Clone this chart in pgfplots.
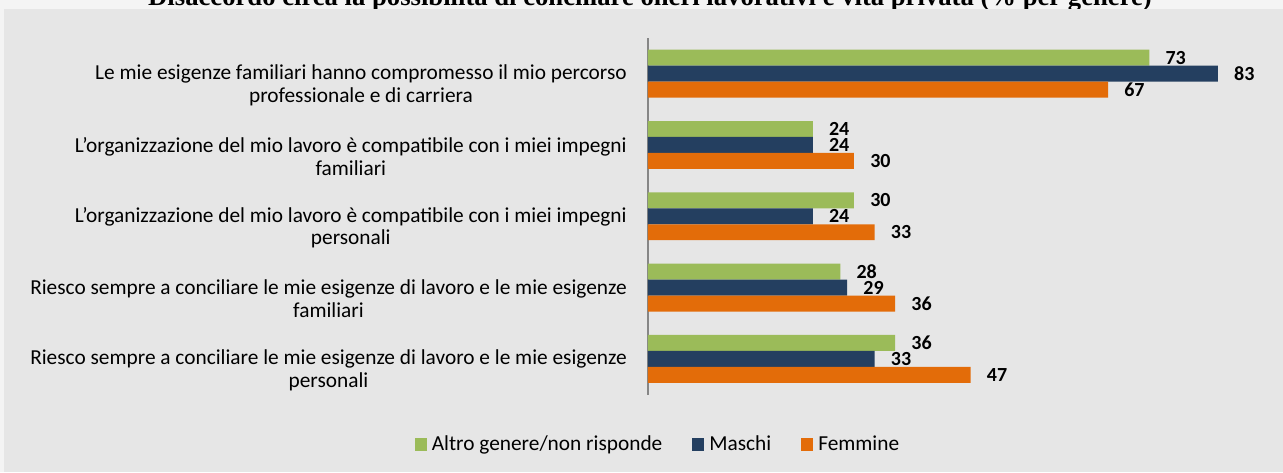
\documentclass[border=0pt]{standalone}
\usepackage{pgfplots}
\pgfplotsset{compat=1.18}
\usepackage{fontspec}
\setmainfont{Carlito}
\newfontfamily\titlefont{Liberation Serif}
\definecolor{cgreen}{HTML}{9BBB59}
\definecolor{cnavy}{HTML}{243F60}
\definecolor{corange}{HTML}{E36C09}
\definecolor{panel}{HTML}{E6E6E6}
\definecolor{outer}{HTML}{F4F4F4}
\definecolor{axgray}{HTML}{868686}
\begin{document}
\begin{tikzpicture}[x=0.75pt,y=-0.75pt]
\useasboundingbox (0,0) rectangle (1283,472);
\clip (0,0) rectangle (1283,472);
\fill[outer] (0,0) rectangle (1283,472);
\fill[panel] (4,9) rectangle (1283,472);
\node[font=\titlefont\bfseries\fontsize{20}{22}\selectfont, anchor=base, inner sep=0] at (650,5) {Disaccordo circa la possibilità di conciliare oneri lavorativi e vita privata (\% per genere)};
\fill[panel] (4,9) rectangle (1283,472);
\begin{axis}[
  at={(486pt,-28.5pt)}, anchor=north west,
  scale only axis, width=463.5pt, height=267.4pt,
  xmin=0, xmax=90, ymin=-0.5, ymax=4.5, y dir=reverse,
  xbar, bar width=0.224,
  axis x line=none, axis y line*=left,
  y axis line style={draw=axgray, line width=1pt, -},
  ytick={0,1,2,3,4}, major tick length=0pt,
  yticklabels={{Le mie esigenze familiari hanno compromesso il mio percorso\\professionale e di carriera},
    {L’organizzazione del mio lavoro è compatibile con i miei impegni\\familiari},
    {L’organizzazione del mio lavoro è compatibile con i miei impegni\\personali},
    {Riesco sempre a conciliare le mie esigenze di lavoro e le mie esigenze\\familiari},
    {Riesco sempre a conciliare le mie esigenze di lavoro e le mie esigenze\\personali}},
  yticklabel style={align=center, font=\fontsize{16}{17}\selectfont, inner sep=0pt, xshift=-15.75pt, yshift=-8.5pt},
  clip=false,
  /pgf/number format/assume math mode=true,
  nodes near coords,
  nodes near coords style={anchor=west, inner sep=0pt, xshift=12pt, font=\bfseries\fontsize{15}{16}\selectfont, text=black},
  legend columns=3,
  legend style={at={(0.0146,-0.140)}, anchor=center, draw=none, fill=none,
    font=\fontsize{16}{17}\selectfont,
    nodes={inner sep=0pt},
    /tikz/every odd column/.append style={column sep=3.75pt},
    /tikz/every even column/.append style={column sep=22.5pt}},
  legend image code/.code={\fill[#1] (0pt,-4.9pt) rectangle (9pt,4.9pt);},
]
\addplot[fill=cgreen, draw=none, bar shift=-0.224] coordinates {(73,0) (24,1) (30,2) (28,3) (36,4)};
\addplot[fill=cnavy, draw=none, bar shift=0] coordinates {(83,0) (24,1) (24,2) (29,3) (33,4)};
\addplot[fill=corange, draw=none, bar shift=0.224] coordinates {(67,0) (30,1) (33,2) (36,3) (47,4)};
\legend{Altro genere/non risponde, Maschi, Femmine}
\end{axis}
\end{tikzpicture}
\end{document}
